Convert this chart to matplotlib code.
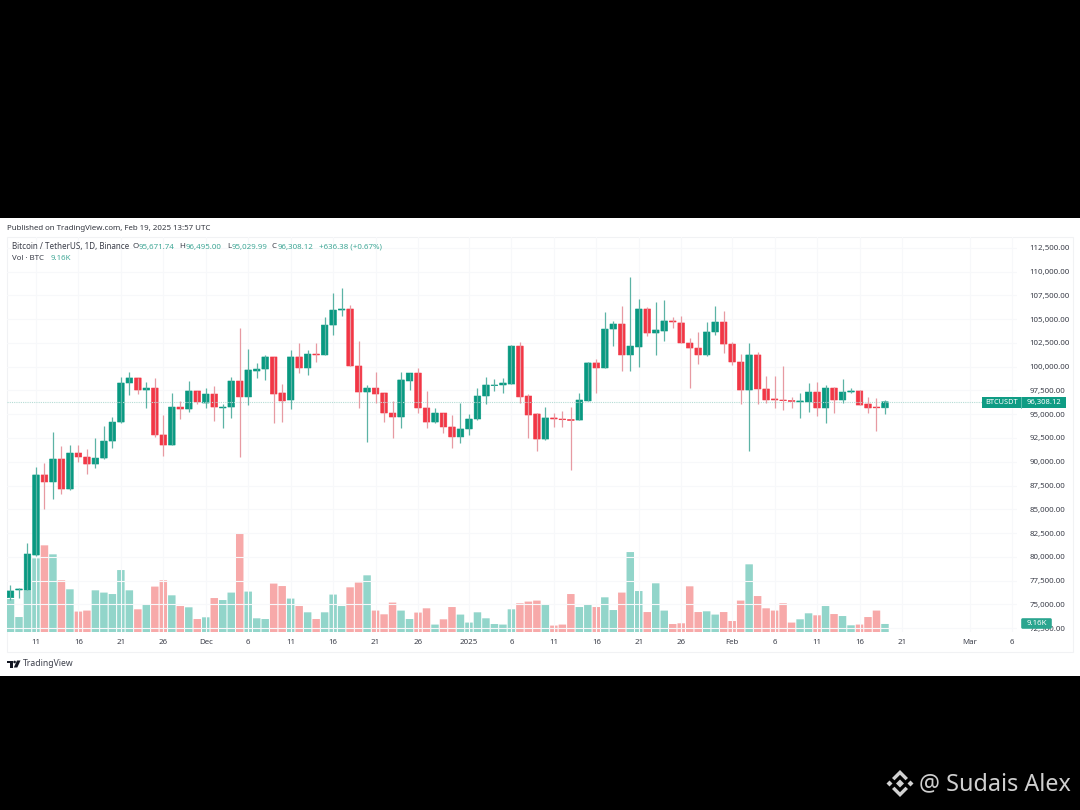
import pandas as pd
import matplotlib
matplotlib.use('Agg')
import matplotlib.pyplot as plt
from matplotlib.patches import Polygon, Rectangle, FancyBboxPatch, Circle

plt.rcParams['font.family'] = ['Noto Sans', 'DejaVu Sans']

# Daily candles, 8 Nov 2024 to 19 Feb 2025
start_date = '2024-11-08'
opens = [75690, 76500, 76500, 80180, 88610, 87870, 90290, 87130, 90920, 90500, 89760, 90390, 92180,
         94180, 98290, 98820, 97550, 97760, 92820, 91760, 95760, 95550, 97450, 96180, 97130, 95660,
         95760, 98500, 96820, 99550, 99760, 101030, 97240, 96500, 101030, 99870, 101340, 101240,
         104390, 105970, 106080, 100080, 97340, 97760, 97240, 95130, 94710, 98500, 99340, 95660,
         94180, 95130, 93660, 92610, 93450, 94500, 96920, 98030, 98080, 98180, 102180, 96920, 95030,
         92390, 94610, 94500, 94450, 94390, 96400, 100400, 99870, 103970, 104500, 101240, 102080,
         106080, 103550, 103760, 104820, 104610, 102500, 101970, 101240, 103660, 104710, 102390,
         100500, 97550, 101240, 97660, 96610, 96500, 96450, 96290, 96290, 97340, 95660, 97760, 96500,
         97340, 97450, 96080, 95760, 95672]
highs = [77030, 76710, 81450, 89450, 89870, 93130, 91660, 91760, 91760, 91340, 92500, 93760, 94710,
         98920, 99450, 98820, 98390, 98820, 94920, 97240, 96400, 98500, 97450, 97760, 97970, 96080,
         98920, 104080, 101870, 100400, 101240, 101030, 98180, 101760, 102500, 101760, 102500, 105240,
         107760, 108290, 106500, 102710, 98080, 99450, 97240, 96400, 99450, 99340, 99870, 97450,
         95660, 95130, 94920, 96180, 95030, 97760, 98920, 98710, 98820, 102290, 102610, 97130, 95130,
         95760, 95130, 95340, 95760, 97240, 100500, 100820, 105760, 104820, 106390, 109450, 107130,
         106290, 106820, 107030, 105240, 105340, 103030, 103660, 104710, 106390, 105870, 102610,
         101340, 102500, 101550, 99030, 99030, 100080, 96820, 97240, 98290, 98390, 98080, 97870,
         98710, 97760, 97550, 96820, 96710, 96495]
lows = [75450, 75660, 76500, 80080, 85030, 86080, 86610, 87030, 89970, 88710, 89340, 90290, 91450,
        94080, 97030, 97130, 95660, 92610, 90610, 91760, 94500, 95240, 96080, 95660, 94290, 93550,
        94610, 90500, 95970, 98820, 98610, 94080, 94180, 95550, 99340, 99130, 100500, 101240, 103340,
        105340, 100080, 95660, 92080, 96180, 94180, 92500, 93550, 97550, 95130, 93550, 94080, 93030,
        91450, 91970, 92820, 94390, 96080, 97450, 97240, 98180, 96180, 92500, 91130, 92290, 93660,
        93660, 89130, 94390, 96400, 97240, 99870, 102180, 99550, 99550, 99970, 103240, 101240,
        102710, 104080, 102500, 97760, 100290, 101130, 103340, 101450, 100180, 96080, 91130, 96080,
        96180, 95660, 95450, 95660, 94610, 95240, 94820, 94080, 95130, 96180, 97240, 95970, 95130,
        93240, 95030]
closes = [76400, 76610, 80290, 88610, 87870, 90290, 87130, 90920, 90500, 89760, 90390, 92180, 94180,
          98290, 98820, 97550, 97760, 92820, 91760, 95760, 95550, 97450, 96290, 97130, 95760, 95760,
          98500, 96820, 99660, 99760, 101030, 97130, 96400, 101030, 99870, 101340, 101240, 104390,
          105970, 106080, 100080, 97340, 97760, 97130, 95130, 94710, 98610, 99340, 95660, 94180,
          95130, 93660, 92610, 93450, 94500, 96920, 98080, 98080, 98290, 102180, 96820, 94920, 92390,
          94610, 94500, 94420, 94340, 96500, 100400, 99870, 103970, 104500, 101240, 102180, 106080,
          103550, 103870, 104820, 104710, 102500, 101970, 101240, 103660, 104710, 102390, 100500,
          97550, 101240, 97660, 96500, 96500, 96440, 96340, 96400, 97340, 95660, 97760, 96500, 97340,
          97450, 95970, 95660, 95670, 96308.12]
volumes = [36.6, 16.8, 46.2, 81.4, 95.7, 85.8, 57.2, 47.3, 22.8, 23.9, 46.2, 43.7, 42.1, 68.5, 46.2,
           25.3, 31.1, 50.3, 57.2, 40.7, 28.9, 27.5, 14.6, 16.5, 37.7, 35.5, 43.7, 108.6, 44.8, 15.4,
           14.6, 53.6, 50.9, 37.1, 28.9, 22, 14.6, 22, 41.5, 28.9, 49.5, 54.7, 62.7, 23.9, 19.8, 32.7,
           23.9, 14.6, 21.7, 26.4, 8.5, 14.3, 27.8, 19.5, 10.7, 22, 15.4, 9.1, 8.5, 25.3, 31.9, 33.8,
           34.9, 31.1, 7.4, 8.5, 42.1, 27.8, 30.5, 27.8, 38.5, 24.5, 43.7, 88.3, 45.4, 22.3, 53.9,
           23.9, 9.1, 9.9, 50.6, 22.3, 23.1, 19.5, 22.3, 12.4, 34.9, 74.8, 39.9, 26.4, 23.9, 31.9,
           10.7, 14.3, 20.9, 18.7, 28.9, 20.1, 17.9, 7.7, 8.5, 16.8, 23.9, 9.16]

tick_dates = ['2024-11-11', '2024-11-16', '2024-11-21', '2024-11-26', '2024-12-01', '2024-12-06',
              '2024-12-11', '2024-12-16', '2024-12-21', '2024-12-26', '2025-01-01', '2025-01-06',
              '2025-01-11', '2025-01-16', '2025-01-21', '2025-01-26', '2025-02-01', '2025-02-06',
              '2025-02-11', '2025-02-16', '2025-02-21', '2025-03-01', '2025-03-06']
tick_labels = ['11', '16', '21', '26', 'Dec', '6', '11', '16', '21', '26', '2025', '6', '11', '16',
               '21', '26', 'Feb', '6', '11', '16', '21', 'Mar', '6']
price_ticks = list(range(72500, 112501, 2500))

GREEN = '#089981'
RED = '#f23645'
WICK_GREEN = '#5cb3a5'
WICK_RED = '#e79aa2'
VOL_GREEN = '#92d5ca'
VOL_RED = '#f7a9a9'
GRID = '#f7f8fa'
TEXT = '#3c3f4a'
W, H = 1080, 810

df = pd.DataFrame({'open': opens, 'high': highs, 'low': lows, 'close': closes, 'vol': volumes})
df['x'] = range(len(df))
df['up'] = df['close'] >= df['open']
tick_pos = [(pd.Timestamp(d) - pd.Timestamp(start_date)).days for d in tick_dates]

fig = plt.figure(figsize=(W / 100, H / 100), dpi=100, facecolor='black')

# Full figure layer in pixels for the white panel and its frame
bg = fig.add_axes([0, 0, 1, 1], zorder=0)
bg.set_xlim(0, W)
bg.set_ylim(H, 0)
bg.axis('off')
bg.add_patch(Rectangle((0, 218), W, 458, fc='white', ec='none'))
bg.add_patch(Rectangle((6.5, 237), 1066.5, 415, fc='none', ec='#f1f2f4', lw=0.8))


def add_axes_px(left, top, right, bottom, zorder):
    return fig.add_axes([left / W, 1 - bottom / H, (right - left) / W, (bottom - top) / H], zorder=zorder)


ax_vol = add_axes_px(7, 237, 1017, 632.3, 1)
ax = add_axes_px(7, 237, 1017, 632.3, 2)
ax.patch.set_alpha(0)
ax_vol.patch.set_alpha(0)

# Volume bars
ax_vol.bar(df['x'], df['vol'], width=0.88, color=[VOL_GREEN if u else VOL_RED for u in df['up']], snap=False)
ax_vol.set_ylim(0, 435)
ax_vol.set_xlim(-0.412, 118.55)
ax_vol.set_xticks([])
ax_vol.set_yticks([])
for s in ax_vol.spines.values():
    s.set_visible(False)

# Candles
ax.vlines(df['x'], df['low'], df['high'], colors=[WICK_GREEN if u else WICK_RED for u in df['up']], lw=0.9)
ax.bar(df['x'], (df['close'] - df['open']).abs(), bottom=df[['open', 'close']].min(axis=1), width=0.78,
       color=[GREEN if u else RED for u in df['up']], edgecolor=[GREEN if u else RED for u in df['up']],
       lw=0.4, snap=False)
ax.axhline(closes[-1], color='#b5dcd5', lw=0.8, ls=(0, (1, 1)), zorder=1)

ax.set_xlim(-0.412, 118.55)
ax.set_ylim(72048, 113657)
ax.set_yticks(price_ticks)
ax.set_yticklabels([f'{p:,.2f}' for p in price_ticks], fontsize=5.7, color=TEXT)
ax.yaxis.tick_right()
ax.set_xticks(tick_pos)
ax.set_xticklabels(tick_labels, fontsize=5.7, color=TEXT)
ax.get_xticklabels()[tick_labels.index('2025')].set_fontweight('bold')
ax.tick_params(axis='y', length=0, pad=9)
ax.tick_params(axis='x', length=0, pad=5)
ax.grid(True, color=GRID, lw=0.8)
ax.set_axisbelow(True)
for s in ax.spines.values():
    s.set_visible(False)

# Top layer for tags, header text and logos
top = fig.add_axes([0, 0, 1, 1], zorder=3)
top.set_xlim(0, W)
top.set_ylim(H, 0)
top.axis('off')
top.patch.set_alpha(0)

top.add_patch(Rectangle((982, 397), 84, 11, fc='#0f9c84', ec='none'))
top.plot([1021, 1021], [397, 408], color='#6cc4b4', lw=0.6)
top.text(1001.5, 402.7, 'BTCUSDT', color='white', fontsize=5.3, ha='center', va='center')
top.text(1044, 402.7, f'{closes[-1]:,.2f}', color='white', fontsize=5.5, ha='center', va='center')
top.add_patch(FancyBboxPatch((1022, 619), 29, 9, boxstyle='round,pad=0.8,rounding_size=1.5', fc='#2aa58f', ec='none'))
top.text(1036.5, 623.7, '9.16K', color='white', fontsize=5.7, ha='center', va='center')

# Header text
top.text(7, 228, 'Published on TradingView.com, Feb 19, 2025 13:57 UTC', fontsize=5.7, color='#33363f', va='center')
top.text(12, 247, 'Bitcoin / TetherUS, 1D, Binance', fontsize=5.8, color=TEXT, va='center')
TEAL = '#3fa796'
for xpos, letter, val_x, val in [(132.5, 'O', 139, '95,671.74'), (179.5, 'H', 186, '96,495.00'),
                                 (227, 'L', 232, '95,029.99'), (272, 'C', 278, '96,308.12')]:
    top.text(xpos, 247, letter, fontsize=5.7, color=TEXT, va='center')
    top.text(val_x, 247, val, fontsize=5.7, color=TEAL, va='center')
top.text(319, 247, '+636.38 (+0.67%)', fontsize=5.7, color=TEAL, va='center')
top.text(12, 259, 'Vol · BTC', fontsize=5.7, color=TEXT, va='center')
top.text(51, 259, '9.16K', fontsize=5.7, color=TEAL, va='center')

# TradingView mark and name
top.add_patch(Polygon([(7, 660.5), (13, 660.5), (13, 667.5), (10, 667.5), (10, 663), (7, 663)], fc='#131722', ec='none'))
top.add_patch(Circle((14.6, 662), 1.3, fc='#131722', ec='none'))
top.add_patch(Polygon([(17, 660.5), (20.5, 660.5), (17.3, 667.5), (13.8, 667.5)], fc='#131722', ec='none'))
top.text(23, 664, 'TradingView', fontsize=6.2, color='#3c3f4a', va='center')

# Watermark at the bottom right
LOGO = '#d2d2d2'
cx, cy = 900, 783.5
top.add_patch(Polygon([(cx - 4, cy), (cx, cy - 4), (cx + 4, cy), (cx, cy + 4)], fc=LOGO, ec='none'))
top.add_patch(Polygon([(cx - 13.5, cy), (cx - 10.5, cy - 3), (cx - 7.5, cy), (cx - 10.5, cy + 3)], fc=LOGO, ec='none'))
top.add_patch(Polygon([(cx + 13.5, cy), (cx + 10.5, cy - 3), (cx + 7.5, cy), (cx + 10.5, cy + 3)], fc=LOGO, ec='none'))
top.add_patch(Polygon([(cx - 8, cy - 5.5), (cx, cy - 13.5), (cx + 8, cy - 5.5), (cx + 5.5, cy - 3.2),
                       (cx, cy - 8.7), (cx - 5.5, cy - 3.2)], fc=LOGO, ec='none'))
top.add_patch(Polygon([(cx - 8, cy + 5.5), (cx, cy + 13.5), (cx + 8, cy + 5.5), (cx + 5.5, cy + 3.2),
                       (cx, cy + 8.7), (cx - 5.5, cy + 3.2)], fc=LOGO, ec='none'))
top.text(919, 784, '@ Sudais Alex', fontsize=16.8, color='#cfcfcf', va='center')

fig.savefig('out.png', dpi=100, facecolor='black')
